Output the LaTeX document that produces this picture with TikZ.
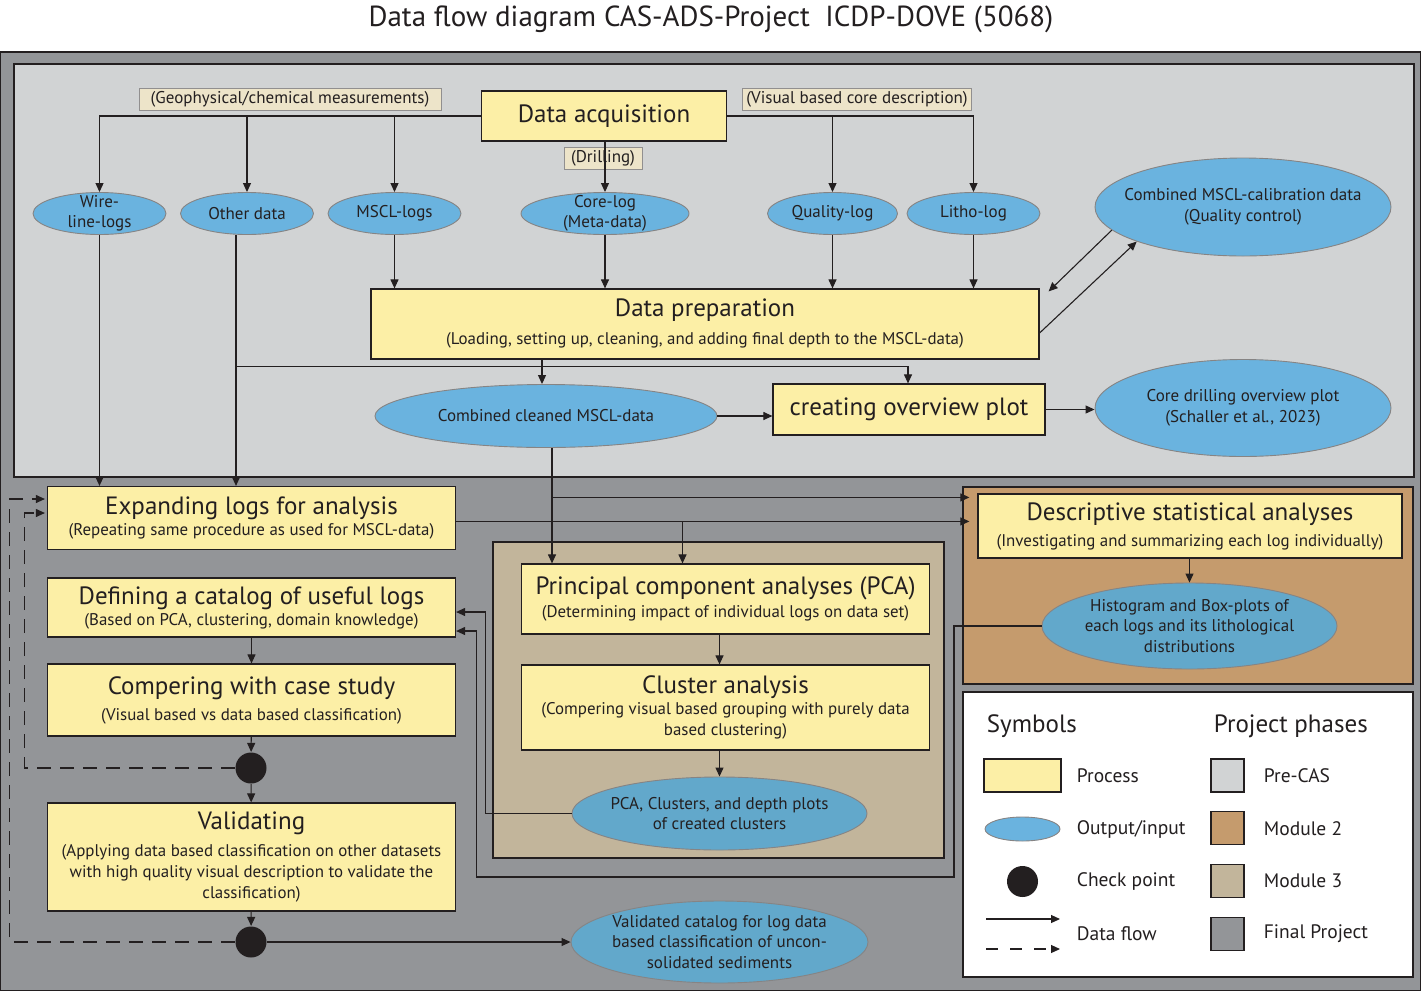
\documentclass[tikz,border=0pt]{standalone}
\usepackage{fontspec}
\setmainfont{PT Sans}
\usetikzlibrary{arrows.meta}
\usetikzlibrary{shapes.geometric}
\usepackage{xcolor}
\definecolor{ink}{HTML}{231F20}
\definecolor{final}{HTML}{939598}
\definecolor{precas}{HTML}{D1D3D4}
\definecolor{modtwo}{HTML}{C59B6D}
\definecolor{modthree}{HTML}{C2B59B}
\definecolor{proc}{HTML}{FCEFA6}
\definecolor{iocol}{HTML}{6AB3DF}
\definecolor{iodark}{HTML}{62A8CB}
\definecolor{tagcol}{HTML}{EDE4C9}
\newcommand{\bigtxt}{\fontsize{25}{29}\selectfont}
\newcommand{\smalltxt}{\fontsize{16.9}{21}\selectfont}
\newcommand{\iotxt}{\fontsize{17}{20.5}\selectfont}
\newcommand{\legtxt}{\fontsize{19.5}{23}\selectfont}
\begin{document}
\begin{tikzpicture}[x=1pt,y=-1pt,color=ink,line width=1.1pt,
  >={Triangle[length=9pt,width=8pt]},
  process/.style={draw,fill=proc,line width=1.2pt,inner sep=0pt,align=center,font=\smalltxt},
  io/.style={ellipse,draw=ink!55,fill=iocol,line width=0.9pt,inner xsep=-40pt,inner ysep=-14pt,align=center,font=\iotxt},
  iodk/.style={io,fill=iodark},
  tagbox/.style={draw=ink!50,fill=tagcol,line width=0.9pt,minimum height=22pt,inner xsep=4pt,inner ysep=0pt,font=\iotxt},
  check/.style={circle,fill,inner sep=0pt,minimum size=31pt},
  phase/.style={draw,line width=1.2pt},
  flow/.style={->},
  loopback/.style={->,dash pattern=on 14pt off 9pt},
]
\useasboundingbox (0,0) rectangle (1421,991);
\fill[white] (0,0) rectangle (1421,991);
\node (title) at (711,19) {\fontsize{29}{32}\selectfont Data flow diagram CAS-ADS-Project\ \ ICDP-DOVE (5068)};

% project phases
\filldraw[phase,fill=final] (0.6,52) rectangle (1420.4,990.4);
\filldraw[phase,fill=precas] (14,64) rectangle (1414,477);
\filldraw[phase,fill=modthree] (493,542) rectangle (944,858);
\filldraw[phase,fill=modtwo] (963,487) rectangle (1413,684);
\filldraw[phase,fill=white] (963,692) rectangle (1413,977);

% Pre-CAS
\node[process,minimum width=245pt,minimum height=50pt] (acq) at (604,116) {\bigtxt Data acquisition};
\node[tagbox,minimum width=302pt] (geo) at (290,99.5) {(Geophysical/chemical measurements)};
\node[tagbox,minimum width=229pt] (vis) at (857,99) {(Visual based core description)};
\node[tagbox,minimum width=78pt] (drill) at (603,158) {(Drilling)};

\node[io,minimum width=133pt,minimum height=42pt] (wire) at (99.5,213.5) {Wire-\\line-logs};
\node[io,minimum width=133pt,minimum height=42pt] (other) at (247,213.5) {Other data};
\node[io,minimum width=133pt,minimum height=42pt] (mscl) at (394.5,213.5) {MSCL-logs};
\node[io,minimum width=168pt,minimum height=42pt] (core) at (605,213.5) {Core-log\\(Meta-data)};
\node[io,minimum width=130pt,minimum height=42pt] (quality) at (832.5,213.5) {Quality-log};
\node[io,minimum width=133pt,minimum height=42pt] (litho) at (973.5,213.5) {Litho-log};
\node[io,minimum width=296pt,minimum height=98pt] (calib) at (1243,207) {Combined MSCL-calibration data\\(Quality control)};

\node[process,minimum width=668pt,minimum height=70pt] (prep) at (705,324) {\bigtxt Data preparation\\[7pt](Loading, setting up, cleaning, and adding final depth to the MSCL-data)};
\node[io,minimum width=342pt,minimum height=63pt] (clean) at (546,416) {Combined cleaned MSCL-data};
\node[process,minimum width=272pt,minimum height=51pt] (ovw) at (909,409.5) {\bigtxt creating overview plot};
\node[io,minimum width=296pt,minimum height=97pt] (dplot) at (1243,408) {Core drilling overview plot\\(Schaller et al., 2023)};

% final project, left column
\node[process,minimum width=408pt,minimum height=63pt] (expand) at (251.5,518) {\bigtxt Expanding logs for analysis\\(Repeating same procedure as used for MSCL-data)};
\node[process,minimum width=408pt,minimum height=59pt] (def) at (251.5,607.5) {\bigtxt Defining a catalog of useful logs\\(Based on PCA, clustering, domain knowledge)};
\node[process,minimum width=408pt,minimum height=72pt] (comp) at (251.5,700) {\bigtxt Compering with case study\\[5pt](Visual based vs data based classification)};
\node[check] (chk1) at (251,768) {};
\node[process,minimum width=408pt,minimum height=108pt] (val) at (251.5,857) {\bigtxt Validating\\[6pt](Applying data based classification on other datasets\\with high quality visual description to validate the\\classification)};
\node[check] (chk2) at (251,942) {};
\node[iodk,minimum width=297pt,minimum height=82pt] (valid) at (719.5,942) {Validated catalog for log data\\based classification of uncon-\\solidated sediments};

% module 3
\node[process,minimum width=408pt,minimum height=70pt] (pca) at (725.5,599) {\bigtxt Principal component analyses (PCA)\\[2pt](Determining impact of individual logs on data set)};
\node[process,minimum width=408pt,minimum height=85pt] (clus) at (725.5,707.5) {\bigtxt Cluster analysis\\(Compering visual based grouping with purely data\\based clustering)};
\node[iodk,minimum width=295pt,minimum height=73pt] (pcaplot) at (719.5,813.5) {PCA, Clusters, and depth plots\\of created clusters};

% module 2
\node[process,minimum width=424pt,minimum height=64pt] (desc) at (1190,526) {\bigtxt Descriptive statistical analyses\\[5pt](Investigating and summarizing each log individually)};
\node[iodk,minimum width=295pt,minimum height=86pt] (hist) at (1189.5,626) {Histogram and Box-plots of\\each logs and its lithological\\distributions};

% help points
\coordinate (od) at ([xshift=-11pt]other.south);
\coordinate (bus) at ([yshift=-7pt]prep.south);
\coordinate (cd) at ([xshift=6pt]clean.south);
\coordinate (inA) at ([yshift=-4pt]desc.north west);
\coordinate (inB) at ([yshift=-28pt]desc.north west);
\coordinate (pin) at ([xshift=-43pt]pca.north);
\coordinate (fbA) at ([yshift=-4.5pt]def.east);
\coordinate (fbB) at ([yshift=-23.5pt]def.east);
\coordinate (loop) at (954,877);
\coordinate (exA) at ([yshift=19pt]expand.west);
\coordinate (exB) at ([yshift=5pt]expand.west);

% data flow
\draw[flow] (acq.west) -| (wire.north);
\draw[flow] (acq.west -| other) -- (other);
\draw[flow] (acq.west -| mscl) -- (mscl);
\draw[flow] (acq.east) -| (litho.north);
\draw[flow] (acq.east -| quality) -- (quality);
\draw[flow] (acq.south -| core) -- (core);
\foreach \n in {mscl,core,quality,litho}
  \draw[flow] (\n.south) -- (\n.south |- prep.north);
\draw[flow] (calib.190) -- ([xshift=9pt,yshift=-3pt]prep.north east);
\draw[flow] ([yshift=-9pt]prep.east) -- (calib.198);
\draw[flow] (wire.south) -- (wire.south |- expand.north);
\draw[flow] (od) -- (od |- expand.north);
\draw[flow] (od |- bus) -| (ovw.north -| 908,0);
\draw[flow] ([xshift=-4pt]clean.north |- prep.south) -- ([xshift=-4pt]clean.north);
\draw[flow] (clean.east) -- (clean.east -| ovw.west);
\draw[flow] (ovw.east) -- (ovw.east -| dplot.west);
\draw[flow] (cd) -- (cd |- pca.north);
\draw[flow,shorten >=8pt] (cd |- inA) -- (inA);
\draw[flow,shorten >=8pt] (expand.east |- inB) -- (inB);
\draw[flow] (pin |- inB) -- (pin);
\draw[flow] (pca.south -| pcaplot) -- (clus.north -| pcaplot);
\draw[flow] (clus.south -| pcaplot) -- (pcaplot);
\draw[flow] (desc.south -| hist) -- (hist);
\draw[flow] (pcaplot.west) -| ([xshift=29pt]fbA) -- (fbA);
\draw[flow] (hist.west) -| (loop) -| ([xshift=20pt]fbB) -- (fbB);
\draw[flow] (def) -- (comp);
\draw[flow] (comp) -- (chk1);
\draw[flow] (chk1) -- (val);
\draw[flow] (val) -- (chk2);
\draw[flow] (chk2) -- (valid);
\draw[loopback,shorten >=2pt] (chk1.west) -| ([xshift=-22pt]exB) -- (exB);
\draw[loopback,shorten >=2pt] (chk2.west) -| ([xshift=-37pt]exA) -- (exA);

% legend
\node[anchor=west] (sym) at (983,726) {\fontsize{25}{28}\selectfont Symbols};
\node[anchor=west] (phs) at (1210,726) {\fontsize{25}{28}\selectfont Project phases};
\node[process,minimum width=77pt,minimum height=33pt] (lproc) at (1022.5,775.5) {};
\node[io,minimum width=75pt,minimum height=24pt] (lio) at (1022.5,829) {};
\node[check] (lchk) at (1022.5,881.5) {};
\coordinate (lfa) at (986,919); \coordinate (lfb) at (1060,919);
\coordinate (lda) at (986,949); \coordinate (ldb) at (1060,949);
\draw[flow] (lfa) -- (lfb);
\draw[loopback,dash pattern=on 12pt off 12pt] (lda) -- (ldb);
\foreach \t/\y [count=\i] in {Process/775.5,{Output/input}/829,Check point/881.5,Data flow/934}
  \node[anchor=west,font=\legtxt] (ls\i) at (1073,\y) {\t};
\foreach \c/\t [count=\i] in {precas/Pre-CAS,modtwo/Module 2,modthree/Module 3,final/Final Project}{
  \node[phase,fill=\c,minimum size=33pt,inner sep=0pt] (lp\i) at (1227.5,775.5+52.7*\i-52.7) {};
  \node[anchor=west,font=\legtxt] (lt\i) at (1260,775.5+52.7*\i-52.7) {\t};
}
\end{tikzpicture}
\end{document}
